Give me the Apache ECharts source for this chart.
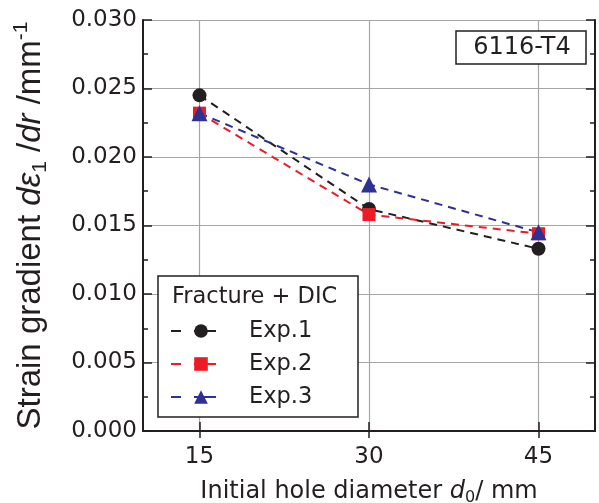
<!DOCTYPE html>
<html>
<head>
<meta charset="utf-8">
<script src="https://cdn.jsdelivr.net/npm/echarts@6/dist/echarts.min.js"></script>
<style>html,body{margin:0;padding:0;background:#fff}#c{width:599px;height:503px}</style>
</head>
<body>
<div id="c"></div>
<script>
const xValues = [15, 30, 45];
const xTickValues = [15, 30, 45];
const exp1 = [0.0245, 0.0162, 0.0133];
const exp2 = [0.0232, 0.0158, 0.0144];
const exp3 = [0.0232, 0.0180, 0.0145];
const seriesNames = ['Exp.1', 'Exp.2', 'Exp.3'];
const legendTitle = 'Fracture + DIC';
const materialLabel = '6116-T4';

const ink = '#231f20';
const F = 'DejaVu Sans';
const chart = echarts.init(document.getElementById('c'), null, {renderer: 'canvas'});

function pts(arr) { return xValues.map((x, i) => [x, arr[i]]); }

const axisCommon = {
  axisLine: {show: true, lineStyle: {color: ink, width: 2}},
  axisTick: {show: true, inside: true, length: 9, lineStyle: {color: ink, width: 1.5}}
};

const option = {
  animation: false,
  backgroundColor: '#fff',
  grid: {left: 143, right: 4, top: 20, bottom: 72, containLabel: false, outerBoundsMode: 'none'},
  xAxis: [{
    type: 'value', position: 'bottom', min: 10, max: 50,
    axisLine: axisCommon.axisLine,
    axisTick: {show: true, inside: true, length: 9, lineStyle: {color: ink, width: 1.5}, customValues: xTickValues},
    axisLabel: {customValues: xTickValues, fontFamily: F, fontSize: 23, color: ink, margin: 15},
    splitLine: {show: true, lineStyle: {color: '#a6a6a6', width: 1.2}},
    name: 'Initial hole diameter {i|d}{sub|0}/ mm',
    nameLocation: 'middle', nameGap: 47,
    nameTextStyle: {
      fontFamily: F, fontSize: 24, lineHeight: 28, color: ink,
      rich: {
        i: {fontFamily: F, fontSize: 24, fontStyle: 'italic', lineHeight: 28, color: ink},
        sub: {fontFamily: F, fontSize: 16, lineHeight: 16, verticalAlign: 'bottom', color: ink}
      }
    }
  }, {
    type: 'value', position: 'top', min: 10, max: 50,
    axisLine: axisCommon.axisLine,
    axisTick: {show: true, inside: true, length: 7, lineStyle: {color: ink, width: 1.5}, customValues: xTickValues},
    axisLabel: {show: false, customValues: xTickValues},
    splitLine: {show: false}
  }],
  yAxis: [{
    type: 'value', position: 'left', min: 0, max: 0.03, interval: 0.005,
    axisLine: axisCommon.axisLine,
    axisTick: axisCommon.axisTick,
    minorTick: {show: true, splitNumber: 2, length: 5, lineStyle: {color: ink, width: 1.5}},
    axisLabel: {fontFamily: F, fontSize: 23, color: ink, margin: 6, formatter: v => v.toFixed(3)},
    splitLine: {show: true, lineStyle: {color: '#a6a6a6', width: 1.2}},
    name: 'Strain gradient {i|d\u03b5}{sub|1} /{i|dr} /mm{sup|-1}',
    nameLocation: 'middle', nameGap: 92,
    nameTextStyle: {
      fontFamily: 'Liberation Sans', fontSize: 33, lineHeight: 40, color: ink,
      rich: {
        i: {fontFamily: 'Liberation Sans', fontSize: 33, fontStyle: 'italic', lineHeight: 40, color: ink},
        sub: {fontFamily: 'Liberation Sans', fontSize: 21, lineHeight: 21, verticalAlign: 'bottom', color: ink},
        sup: {fontFamily: 'Liberation Sans', fontSize: 21, lineHeight: 21, verticalAlign: 'top', color: ink}
      }
    }
  }, {
    type: 'value', position: 'right', min: 0, max: 0.03, interval: 0.005,
    axisLine: axisCommon.axisLine,
    axisTick: axisCommon.axisTick,
    minorTick: {show: true, splitNumber: 2, length: 5, lineStyle: {color: ink, width: 1.5}},
    axisLabel: {show: false},
    splitLine: {show: false}
  }],
  legend: {
    orient: 'vertical', left: 170, top: 319, padding: 0,
    itemWidth: 60, itemHeight: 17, itemGap: 9,
    textStyle: {fontFamily: F, fontSize: 22.5, lineHeight: 24, color: ink, padding: [0, 0, 0, 13]},
    lineStyle: {type: [10, 13, 22, 100], width: 2},
    data: seriesNames
  },
  graphic: [
    {type: 'rect', z: 3, shape: {x: 158, y: 276, width: 200, height: 141}, style: {fill: '#fff', stroke: ink, lineWidth: 1.5}},
    {type: 'text', z: 5, x: 172, y: 297, style: {text: legendTitle, font: '22.5px "DejaVu Sans"', fill: ink, verticalAlign: 'middle'}},
    {type: 'rect', z: 3, shape: {x: 456, y: 31, width: 130, height: 33}, style: {fill: '#fff', stroke: ink, lineWidth: 1.5}},
    {type: 'text', z: 5, x: 522, y: 48, style: {text: materialLabel, font: '24px "DejaVu Sans"', fill: ink, align: 'center', verticalAlign: 'middle'}}
  ],
  series: [
    {name: seriesNames[0], type: 'line', data: pts(exp1), symbol: 'circle', symbolSize: 14,
     itemStyle: {color: ink}, lineStyle: {color: ink, width: 2, type: [8, 6]}},
    {name: seriesNames[1], type: 'line', data: pts(exp2), symbol: 'rect', symbolSize: 13,
     itemStyle: {color: '#ed1c24'}, lineStyle: {color: '#ed1c24', width: 2, type: [8, 6]}},
    {name: seriesNames[2], type: 'line', data: pts(exp3), symbol: 'triangle', symbolSize: 16,
     itemStyle: {color: '#2e3192'}, lineStyle: {color: '#2e3192', width: 2, type: [8, 6]}}
  ]
};
chart.setOption(option);
</script>
</body>
</html>
